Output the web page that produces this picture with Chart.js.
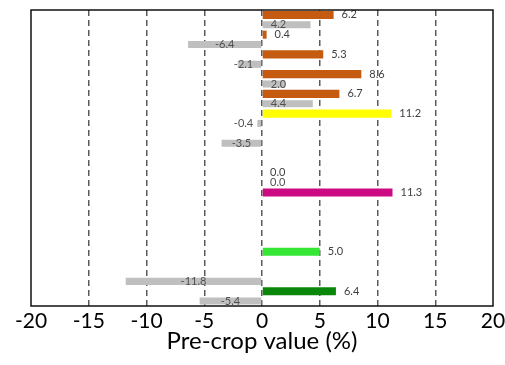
<!DOCTYPE html>
<html>
<head>
<meta charset="utf-8">
<script src="https://cdn.jsdelivr.net/npm/chart.js@4/dist/chart.umd.min.js"></script>
<style>
  html, body { margin: 0; padding: 0; background: #fff; }
</style>
</head>
<body>
<canvas id="myChart" width="505" height="365"></canvas>
<script>
// categories (top to bottom), no names shown in the picture
const categories = ['C1','C2','C3','C4','C5','C6','C7','C8','C9','C10','C11','C12','C13','C14','C15'];
// coloured series (first bar of each pair)
const colouredValues = [6.2, 0.4, 5.3, 8.6, 6.7, 11.2, null, null, 0.0, 11.3, null, null, 5.0, null, 6.4];
const colouredColors = ['#C55A11','#C55A11','#C55A11','#C55A11','#C55A11','#FFFF00', '#999', '#999',
                        '#5B9BD5','#CC0A82','#999','#999','#35E635','#999','#0A870A'];
// grey series (second bar of each pair)
const greyValues = [4.2, -6.4, -2.1, 2.0, 4.4, -0.4, -3.5, null, 0.0, null, null, null, null, -11.8, -5.4];
const xTicks = [-20, -15, -10, -5, 0, 5, 10, 15, 20];

// value labels, placed like the original
const valueLabels = {
    id: 'valueLabels',
    afterDatasetsDraw(chart) {
        const c = chart.ctx;
        c.save();
        c.font = '11px Lato';
        c.textBaseline = 'middle';
        chart.data.datasets.forEach(function (ds, di) {
            const meta = chart.getDatasetMeta(di);
            meta.data.forEach(function (bar, i) {
                const v = ds.data[i];
                if (v === null) return;
                const txt = v.toFixed(1);
                const w = c.measureText(txt).width;
                let x;
                if (di === 0) {
                    c.fillStyle = '#404040';
                    x = bar.x + 8;
                } else {
                    c.fillStyle = '#505050';
                    if (v >= 0) {
                        x = bar.base + 8;
                    } else {
                        x = Math.min((bar.x + bar.base) / 2 - w / 2, bar.base - 8 - w);
                    }
                }
                c.textAlign = 'left';
                c.fillText(txt, x, bar.y);
            });
        });
        c.restore();
    }
};

// frame round the plot area
const frame = {
    id: 'frame',
    afterDraw(chart) {
        const a = chart.chartArea;
        const c = chart.ctx;
        c.save();
        c.strokeStyle = '#111';
        c.lineWidth = 1.5;
        c.strokeRect(a.left, a.top, a.right - a.left, a.bottom - a.top);
        c.restore();
    }
};

const ctx = document.getElementById('myChart').getContext('2d');
const myChart = new Chart(ctx, {
    type: 'bar',
    data: {
        labels: categories,
        datasets: [{
            data: colouredValues,
            backgroundColor: colouredColors,
            barPercentage: 0.82,
            categoryPercentage: 1.0
        }, {
            data: greyValues,
            backgroundColor: '#BFBFBF',
            barPercentage: 0.72,
            categoryPercentage: 1.0
        }]
    },
    options: {
        indexAxis: 'y',
        responsive: false,
        animation: false,
        layout: { padding: { left: 31, right: 12, top: 10, bottom: 4 } },
        plugins: {
            legend: { display: false },
            tooltip: { enabled: false }
        },
        scales: {
            x: {
                min: -20,
                max: 20,
                afterBuildTicks: function (s) { s.ticks = xTicks.map(v => ({ value: v })); },
                afterFit: function (s) { s.height = 55; s.paddingLeft = 0; s.paddingRight = 0; },
                ticks: {
                    color: '#000',
                    padding: 3,
                    maxRotation: 0,
                    font: { family: 'Lato', size: 21 }
                },
                grid: {
                    drawTicks: false,
                    lineWidth: 1.5,
                    color: function (c) {
                        return (c.tick && Math.abs(c.tick.value) === 20) ? 'rgba(0,0,0,0)' : '#5a5a5a';
                    }
                },
                border: { display: false, dash: [6, 4] },
                title: {
                    display: true,
                    text: 'Pre-crop value (%)',
                    color: '#000',
                    font: { family: 'Lato', size: 24 },
                    padding: { top: 0, bottom: 5 }
                }
            },
            y: {
                afterFit: function (s) { s.width = 0; },
                ticks: { display: false },
                grid: { display: false },
                border: { display: false }
            }
        }
    },
    plugins: [valueLabels, frame]
});
</script>
</body>
</html>
